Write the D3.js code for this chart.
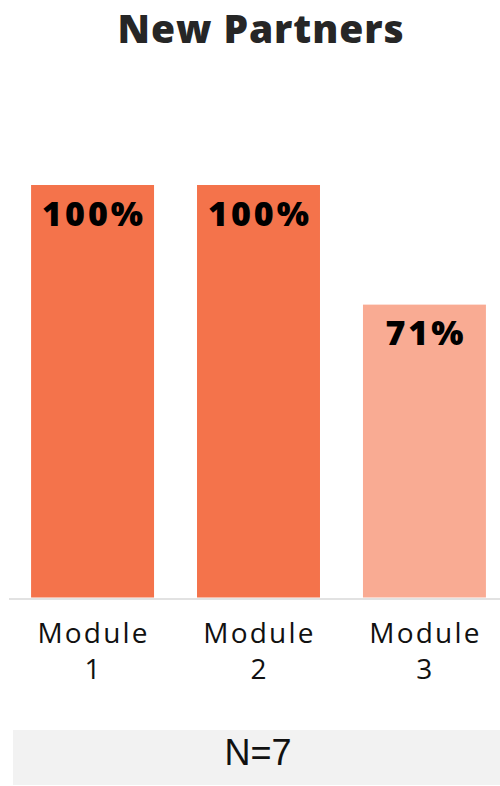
<!DOCTYPE html>
<html><head><meta charset="utf-8">
<script src="https://cdn.jsdelivr.net/npm/d3@7"></script>
<style>html,body{margin:0;padding:0;background:#fff;}svg{display:block;}</style>
</head><body>
<script>
const title = "New Partners";
const categories = ["Module 1", "Module 2", "Module 3"];
const values = [1.00, 1.00, 0.71];
const labels = ["100%", "100%", "71%"];
const note = "N=7";

const W = 500, H = 786;
const svg = d3.select("body").append("svg").attr("width", W).attr("height", H);

const x = d3.scaleBand().domain(categories).range([9.5, 507.5]).paddingInner(0.259).paddingOuter(0.13);
const y = d3.scaleLinear().domain([0, 1]).range([597.5, 185]);
const colors = ["#F4734B", "#F4734B", "#F9AB93"];

svg.append("text").attr("x", 261).attr("y", 42.5).attr("text-anchor", "middle")
  .attr("font-family", "'Open Sans', sans-serif").attr("font-weight", 800).attr("font-size", 39)
  .attr("letter-spacing", 0.9).attr("fill", "#262626").text(title);

svg.selectAll("rect.bar").data(values).join("rect").attr("class", "bar")
  .attr("x", (d, i) => x(categories[i])).attr("width", x.bandwidth())
  .attr("y", d => y(d)).attr("height", d => y(0) - y(d))
  .attr("fill", (d, i) => colors[i]);

svg.selectAll("text.val").data(values).join("text").attr("class", "val")
  .attr("x", (d, i) => x(categories[i]) + x.bandwidth() / 2 + 1.5)
  .attr("y", d => y(d) + 40.5).attr("text-anchor", "middle")
  .attr("font-family", "'Open Sans', sans-serif").attr("font-weight", 800).attr("font-size", 34)
  .attr("letter-spacing", 3).attr("fill", "#000").text((d, i) => labels[i]);

const axis = svg.append("g").attr("transform", "translate(0,599)")
  .call(d3.axisBottom(x).tickSize(0).tickFormat(""));
axis.select(".domain").attr("stroke", "#d9d9d9").attr("stroke-width", 1.5).attr("d", "M9,0H500");

categories.forEach(c => {
  const parts = c.split(" ");
  const t = svg.append("text").attr("text-anchor", "middle")
    .attr("font-family", "'Open Sans', sans-serif").attr("font-size", 28).attr("letter-spacing", 2.2)
    .attr("fill", "#111");
  parts.forEach((p, j) => t.append("tspan").attr("x", x(c) + x.bandwidth() / 2 + 1).attr("y", 643 + j * 36).text(p));
});

svg.append("rect").attr("x", 13).attr("y", 730).attr("width", 487).attr("height", 55).attr("fill", "#F2F2F2");
svg.append("text").attr("x", 258).attr("y", 765).attr("text-anchor", "middle")
  .attr("font-family", "'Liberation Sans', Arial, sans-serif").attr("font-size", 36).attr("fill", "#111").text(note);
</script>
</body></html>
